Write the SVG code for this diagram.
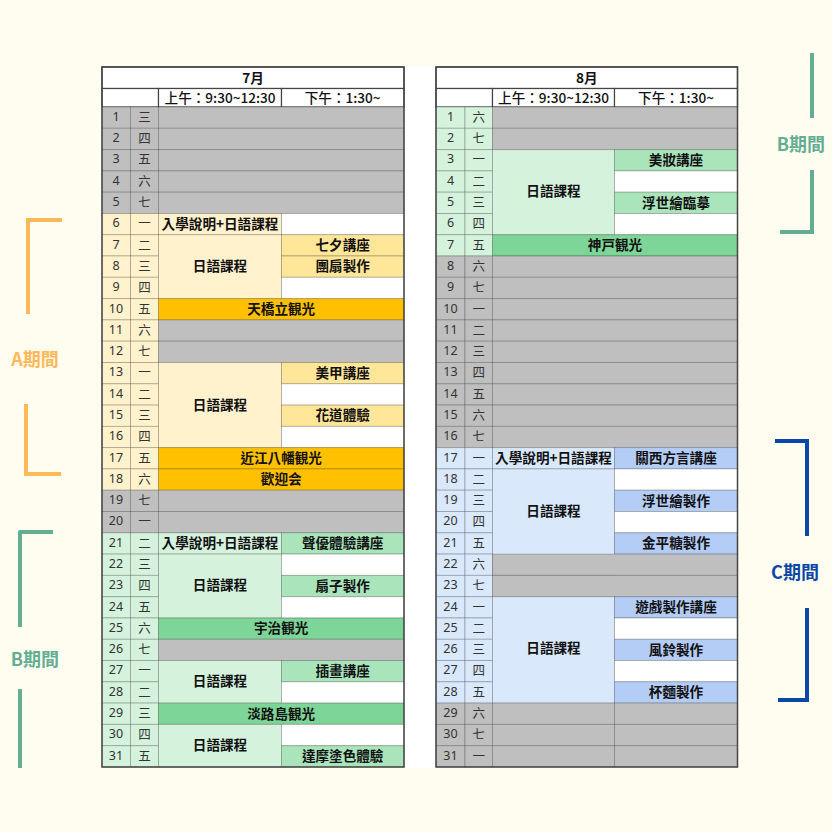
<svg xmlns="http://www.w3.org/2000/svg" width="832" height="832" viewBox="0 0 832 832">
<style>
rect{stroke:rgba(0,0,0,0.22);stroke-width:1}
.bg{stroke:none}
.g{fill:#bfbfbf}.yl{fill:#fff2cc}.ym{fill:#ffe699}.yo{fill:#ffc000}
.gl{fill:#d5f2dd}.gm{fill:#a9e4bb}.gd{fill:#7dd597}
.bl{fill:#dae8fc}.bm{fill:#b4cdf7}.w{fill:#ffffff}
.hd{fill:#ffffff;stroke:#444;stroke-width:1.2}
.frame{fill:none;stroke:#444;stroke-width:1.5}
text{text-anchor:middle;dominant-baseline:central;transform:translateY(-1.2px)}
.t{font-family:"Noto Sans CJK TC","Noto Sans CJK JP",sans-serif;font-size:13.6px;font-weight:bold;fill:#111}
.h{font-family:"Noto Sans CJK TC","Noto Sans CJK JP",sans-serif;font-size:13.6px;font-weight:500;fill:#111}
.n{font-family:"Noto Sans","Liberation Sans",sans-serif;font-size:12.5px;fill:#333}
.d{font-family:"Noto Sans CJK TC","Noto Sans CJK JP",sans-serif;font-size:12.5px;fill:#333}
.br{fill:none;stroke-width:4}
.lab{font-family:"Noto Sans CJK TC","Noto Sans CJK JP",sans-serif;font-size:18px;font-weight:bold;dominant-baseline:auto;transform:none}
</style>
<rect class="bg" x="0" y="0" width="832" height="832" fill="#fffdf0"/>
<rect class="bg" x="404" y="67" width="32" height="701" fill="#ffffff"/>

<g id="july">
<rect class="hd" x="102" y="67" width="302" height="21.5"/>
<text class="t" x="253" y="78">7月</text>
<rect class="hd" x="102" y="88.5" width="56.5" height="18.5"/>
<rect class="hd" x="158.5" y="88.5" width="123" height="18.5"/>
<rect class="hd" x="281.5" y="88.5" width="122.5" height="18.5"/>
<text class="h" x="220" y="98">上午：9:30~12:30</text>
<text class="h" x="342.7" y="98">下午：1:30~</text>

<rect class="g" x="102" y="107" width="28.5" height="21.3"/><rect class="g" x="130.5" y="107" width="28" height="21.3"/>
<rect class="g" x="102" y="128.3" width="28.5" height="21.3"/><rect class="g" x="130.5" y="128.3" width="28" height="21.3"/>
<rect class="g" x="102" y="149.6" width="28.5" height="21.3"/><rect class="g" x="130.5" y="149.6" width="28" height="21.3"/>
<rect class="g" x="102" y="170.9" width="28.5" height="21.3"/><rect class="g" x="130.5" y="170.9" width="28" height="21.3"/>
<rect class="g" x="102" y="192.2" width="28.5" height="21.3"/><rect class="g" x="130.5" y="192.2" width="28" height="21.3"/>
<rect class="yl" x="102" y="213.5" width="28.5" height="21.2"/><rect class="yl" x="130.5" y="213.5" width="28" height="21.2"/>
<rect class="yl" x="102" y="234.7" width="28.5" height="21.3"/><rect class="yl" x="130.5" y="234.7" width="28" height="21.3"/>
<rect class="yl" x="102" y="256" width="28.5" height="21.3"/><rect class="yl" x="130.5" y="256" width="28" height="21.3"/>
<rect class="yl" x="102" y="277.3" width="28.5" height="21.3"/><rect class="yl" x="130.5" y="277.3" width="28" height="21.3"/>
<rect class="yl" x="102" y="298.6" width="28.5" height="21.3"/><rect class="yl" x="130.5" y="298.6" width="28" height="21.3"/>
<rect class="yl" x="102" y="319.9" width="28.5" height="21.3"/><rect class="yl" x="130.5" y="319.9" width="28" height="21.3"/>
<rect class="yl" x="102" y="341.2" width="28.5" height="21.3"/><rect class="yl" x="130.5" y="341.2" width="28" height="21.3"/>
<rect class="yl" x="102" y="362.5" width="28.5" height="21.3"/><rect class="yl" x="130.5" y="362.5" width="28" height="21.3"/>
<rect class="yl" x="102" y="383.8" width="28.5" height="21.3"/><rect class="yl" x="130.5" y="383.8" width="28" height="21.3"/>
<rect class="yl" x="102" y="405.1" width="28.5" height="21.3"/><rect class="yl" x="130.5" y="405.1" width="28" height="21.3"/>
<rect class="yl" x="102" y="426.4" width="28.5" height="21.2"/><rect class="yl" x="130.5" y="426.4" width="28" height="21.2"/>
<rect class="yl" x="102" y="447.6" width="28.5" height="21.3"/><rect class="yl" x="130.5" y="447.6" width="28" height="21.3"/>
<rect class="yl" x="102" y="468.9" width="28.5" height="21.3"/><rect class="yl" x="130.5" y="468.9" width="28" height="21.3"/>
<rect class="g" x="102" y="490.2" width="28.5" height="21.3"/><rect class="g" x="130.5" y="490.2" width="28" height="21.3"/>
<rect class="g" x="102" y="511.5" width="28.5" height="21.3"/><rect class="g" x="130.5" y="511.5" width="28" height="21.3"/>
<rect class="gl" x="102" y="532.8" width="28.5" height="21.3"/><rect class="gl" x="130.5" y="532.8" width="28" height="21.3"/>
<rect class="gl" x="102" y="554.1" width="28.5" height="21.3"/><rect class="gl" x="130.5" y="554.1" width="28" height="21.3"/>
<rect class="gl" x="102" y="575.4" width="28.5" height="21.3"/><rect class="gl" x="130.5" y="575.4" width="28" height="21.3"/>
<rect class="gl" x="102" y="596.7" width="28.5" height="21.3"/><rect class="gl" x="130.5" y="596.7" width="28" height="21.3"/>
<rect class="gl" x="102" y="618" width="28.5" height="21.3"/><rect class="gl" x="130.5" y="618" width="28" height="21.3"/>
<rect class="gl" x="102" y="639.3" width="28.5" height="21.2"/><rect class="gl" x="130.5" y="639.3" width="28" height="21.2"/>
<rect class="gl" x="102" y="660.5" width="28.5" height="21.3"/><rect class="gl" x="130.5" y="660.5" width="28" height="21.3"/>
<rect class="gl" x="102" y="681.8" width="28.5" height="21.3"/><rect class="gl" x="130.5" y="681.8" width="28" height="21.3"/>
<rect class="gl" x="102" y="703.1" width="28.5" height="21.3"/><rect class="gl" x="130.5" y="703.1" width="28" height="21.3"/>
<rect class="gl" x="102" y="724.4" width="28.5" height="21.3"/><rect class="gl" x="130.5" y="724.4" width="28" height="21.3"/>
<rect class="gl" x="102" y="745.7" width="28.5" height="21.3"/><rect class="gl" x="130.5" y="745.7" width="28" height="21.3"/>

<rect class="g" x="158.5" y="107" width="245.5" height="21.3"/>
<rect class="g" x="158.5" y="128.3" width="245.5" height="21.3"/>
<rect class="g" x="158.5" y="149.6" width="245.5" height="21.3"/>
<rect class="g" x="158.5" y="170.9" width="245.5" height="21.3"/>
<rect class="g" x="158.5" y="192.2" width="245.5" height="21.3"/>
<rect class="yl" x="158.5" y="213.5" width="123" height="21.2"/>
<rect class="w" x="281.5" y="213.5" width="122.5" height="21.2"/>
<rect class="yl" x="158.5" y="234.7" width="123" height="63.9"/>
<rect class="ym" x="281.5" y="234.7" width="122.5" height="21.3"/>
<rect class="ym" x="281.5" y="256" width="122.5" height="21.3"/>
<rect class="w" x="281.5" y="277.3" width="122.5" height="21.3"/>
<rect class="yo" x="158.5" y="298.6" width="245.5" height="21.3"/>
<rect class="g" x="158.5" y="319.9" width="245.5" height="21.3"/>
<rect class="g" x="158.5" y="341.2" width="245.5" height="21.3"/>
<rect class="yl" x="158.5" y="362.5" width="123" height="85.1"/>
<rect class="ym" x="281.5" y="362.5" width="122.5" height="21.3"/>
<rect class="w" x="281.5" y="383.8" width="122.5" height="21.3"/>
<rect class="ym" x="281.5" y="405.1" width="122.5" height="21.3"/>
<rect class="w" x="281.5" y="426.4" width="122.5" height="21.2"/>
<rect class="yo" x="158.5" y="447.6" width="245.5" height="21.3"/>
<rect class="yo" x="158.5" y="468.9" width="245.5" height="21.3"/>
<rect class="g" x="158.5" y="490.2" width="245.5" height="21.3"/>
<rect class="g" x="158.5" y="511.5" width="245.5" height="21.3"/>
<rect class="gl" x="158.5" y="532.8" width="123" height="21.3"/>
<rect class="gm" x="281.5" y="532.8" width="122.5" height="21.3"/>
<rect class="gl" x="158.5" y="554.1" width="123" height="63.9"/>
<rect class="w" x="281.5" y="554.1" width="122.5" height="21.3"/>
<rect class="gm" x="281.5" y="575.4" width="122.5" height="21.3"/>
<rect class="w" x="281.5" y="596.7" width="122.5" height="21.3"/>
<rect class="gd" x="158.5" y="618" width="245.5" height="21.3"/>
<rect class="g" x="158.5" y="639.3" width="245.5" height="21.2"/>
<rect class="gl" x="158.5" y="660.5" width="123" height="42.6"/>
<rect class="gm" x="281.5" y="660.5" width="122.5" height="21.3"/>
<rect class="w" x="281.5" y="681.8" width="122.5" height="21.3"/>
<rect class="gd" x="158.5" y="703.1" width="245.5" height="21.3"/>
<rect class="gl" x="158.5" y="724.4" width="123" height="42.6"/>
<rect class="w" x="281.5" y="724.4" width="122.5" height="21.3"/>
<rect class="gm" x="281.5" y="745.7" width="122.5" height="21.3"/>
<rect class="frame" x="102" y="67" width="302" height="700"/>

<text class="n" x="116" y="117.6">1</text><text class="d" x="144.5" y="117.6">三</text>
<text class="n" x="116" y="138.9">2</text><text class="d" x="144.5" y="138.9">四</text>
<text class="n" x="116" y="160.2">3</text><text class="d" x="144.5" y="160.2">五</text>
<text class="n" x="116" y="181.5">4</text><text class="d" x="144.5" y="181.5">六</text>
<text class="n" x="116" y="202.8">5</text><text class="d" x="144.5" y="202.8">七</text>
<text class="n" x="116" y="224.1">6</text><text class="d" x="144.5" y="224.1">一</text>
<text class="n" x="116" y="245.4">7</text><text class="d" x="144.5" y="245.4">二</text>
<text class="n" x="116" y="266.7">8</text><text class="d" x="144.5" y="266.7">三</text>
<text class="n" x="116" y="288">9</text><text class="d" x="144.5" y="288">四</text>
<text class="n" x="116" y="309.3">10</text><text class="d" x="144.5" y="309.3">五</text>
<text class="n" x="116" y="330.6">11</text><text class="d" x="144.5" y="330.6">六</text>
<text class="n" x="116" y="351.9">12</text><text class="d" x="144.5" y="351.9">七</text>
<text class="n" x="116" y="373.2">13</text><text class="d" x="144.5" y="373.2">一</text>
<text class="n" x="116" y="394.4">14</text><text class="d" x="144.5" y="394.4">二</text>
<text class="n" x="116" y="415.7">15</text><text class="d" x="144.5" y="415.7">三</text>
<text class="n" x="116" y="437">16</text><text class="d" x="144.5" y="437">四</text>
<text class="n" x="116" y="458.3">17</text><text class="d" x="144.5" y="458.3">五</text>
<text class="n" x="116" y="479.6">18</text><text class="d" x="144.5" y="479.6">六</text>
<text class="n" x="116" y="500.9">19</text><text class="d" x="144.5" y="500.9">七</text>
<text class="n" x="116" y="522.2">20</text><text class="d" x="144.5" y="522.2">一</text>
<text class="n" x="116" y="543.5">21</text><text class="d" x="144.5" y="543.5">二</text>
<text class="n" x="116" y="564.8">22</text><text class="d" x="144.5" y="564.8">三</text>
<text class="n" x="116" y="586.1">23</text><text class="d" x="144.5" y="586.1">四</text>
<text class="n" x="116" y="607.4">24</text><text class="d" x="144.5" y="607.4">五</text>
<text class="n" x="116" y="628.6">25</text><text class="d" x="144.5" y="628.6">六</text>
<text class="n" x="116" y="649.9">26</text><text class="d" x="144.5" y="649.9">七</text>
<text class="n" x="116" y="671.2">27</text><text class="d" x="144.5" y="671.2">一</text>
<text class="n" x="116" y="692.5">28</text><text class="d" x="144.5" y="692.5">二</text>
<text class="n" x="116" y="713.8">29</text><text class="d" x="144.5" y="713.8">三</text>
<text class="n" x="116" y="735.1">30</text><text class="d" x="144.5" y="735.1">四</text>
<text class="n" x="116" y="756.4">31</text><text class="d" x="144.5" y="756.4">五</text>

<text class="t" x="220" y="224.1">入學說明+日語課程</text>
<text class="t" x="220" y="266.6">日語課程</text>
<text class="t" x="342.7" y="245.4">七夕講座</text>
<text class="t" x="342.7" y="266.7">團扇製作</text>
<text class="t" x="281.2" y="309.3">天橋立観光</text>
<text class="t" x="220" y="405">日語課程</text>
<text class="t" x="342.7" y="373.2">美甲講座</text>
<text class="t" x="342.7" y="415.7">花道體驗</text>
<text class="t" x="281.2" y="458.3">近江八幡観光</text>
<text class="t" x="281.2" y="479.6">歡迎会</text>
<text class="t" x="220" y="543.5">入學說明+日語課程</text>
<text class="t" x="342.7" y="543.5">聲優體驗講座</text>
<text class="t" x="220" y="585.5">日語課程</text>
<text class="t" x="342.7" y="586.1">扇子製作</text>
<text class="t" x="281.2" y="628.6">宇治観光</text>
<text class="t" x="220" y="681.3">日語課程</text>
<text class="t" x="342.7" y="671.2">插畫講座</text>
<text class="t" x="281.2" y="713.8">淡路島観光</text>
<text class="t" x="220" y="745.3">日語課程</text>
<text class="t" x="342.7" y="756.4">達摩塗色體驗</text>
</g>

<g id="august">
<rect class="hd" x="436" y="67" width="301.5" height="21.5"/>
<text class="t" x="586.7" y="78">8月</text>
<rect class="hd" x="436" y="88.5" width="56.5" height="18.5"/>
<rect class="hd" x="492.5" y="88.5" width="122" height="18.5"/>
<rect class="hd" x="614.5" y="88.5" width="123" height="18.5"/>
<text class="h" x="553.5" y="98">上午：9:30~12:30</text>
<text class="h" x="676" y="98">下午：1:30~</text>

<rect class="gl" x="436" y="107" width="29" height="21.3"/><rect class="gl" x="465" y="107" width="27.5" height="21.3"/>
<rect class="gl" x="436" y="128.3" width="29" height="21.3"/><rect class="gl" x="465" y="128.3" width="27.5" height="21.3"/>
<rect class="gl" x="436" y="149.6" width="29" height="21.3"/><rect class="gl" x="465" y="149.6" width="27.5" height="21.3"/>
<rect class="gl" x="436" y="170.9" width="29" height="21.3"/><rect class="gl" x="465" y="170.9" width="27.5" height="21.3"/>
<rect class="gl" x="436" y="192.2" width="29" height="21.3"/><rect class="gl" x="465" y="192.2" width="27.5" height="21.3"/>
<rect class="gl" x="436" y="213.5" width="29" height="21.2"/><rect class="gl" x="465" y="213.5" width="27.5" height="21.2"/>
<rect class="gl" x="436" y="234.7" width="29" height="21.3"/><rect class="gl" x="465" y="234.7" width="27.5" height="21.3"/>
<rect class="g" x="436" y="256" width="29" height="21.3"/><rect class="g" x="465" y="256" width="27.5" height="21.3"/>
<rect class="g" x="436" y="277.3" width="29" height="21.3"/><rect class="g" x="465" y="277.3" width="27.5" height="21.3"/>
<rect class="g" x="436" y="298.6" width="29" height="21.3"/><rect class="g" x="465" y="298.6" width="27.5" height="21.3"/>
<rect class="g" x="436" y="319.9" width="29" height="21.3"/><rect class="g" x="465" y="319.9" width="27.5" height="21.3"/>
<rect class="g" x="436" y="341.2" width="29" height="21.3"/><rect class="g" x="465" y="341.2" width="27.5" height="21.3"/>
<rect class="g" x="436" y="362.5" width="29" height="21.3"/><rect class="g" x="465" y="362.5" width="27.5" height="21.3"/>
<rect class="g" x="436" y="383.8" width="29" height="21.3"/><rect class="g" x="465" y="383.8" width="27.5" height="21.3"/>
<rect class="g" x="436" y="405.1" width="29" height="21.3"/><rect class="g" x="465" y="405.1" width="27.5" height="21.3"/>
<rect class="g" x="436" y="426.4" width="29" height="21.2"/><rect class="g" x="465" y="426.4" width="27.5" height="21.2"/>
<rect class="bl" x="436" y="447.6" width="29" height="21.3"/><rect class="bl" x="465" y="447.6" width="27.5" height="21.3"/>
<rect class="bl" x="436" y="468.9" width="29" height="21.3"/><rect class="bl" x="465" y="468.9" width="27.5" height="21.3"/>
<rect class="bl" x="436" y="490.2" width="29" height="21.3"/><rect class="bl" x="465" y="490.2" width="27.5" height="21.3"/>
<rect class="bl" x="436" y="511.5" width="29" height="21.3"/><rect class="bl" x="465" y="511.5" width="27.5" height="21.3"/>
<rect class="bl" x="436" y="532.8" width="29" height="21.3"/><rect class="bl" x="465" y="532.8" width="27.5" height="21.3"/>
<rect class="bl" x="436" y="554.1" width="29" height="21.3"/><rect class="bl" x="465" y="554.1" width="27.5" height="21.3"/>
<rect class="bl" x="436" y="575.4" width="29" height="21.3"/><rect class="bl" x="465" y="575.4" width="27.5" height="21.3"/>
<rect class="bl" x="436" y="596.7" width="29" height="21.3"/><rect class="bl" x="465" y="596.7" width="27.5" height="21.3"/>
<rect class="bl" x="436" y="618" width="29" height="21.3"/><rect class="bl" x="465" y="618" width="27.5" height="21.3"/>
<rect class="bl" x="436" y="639.3" width="29" height="21.2"/><rect class="bl" x="465" y="639.3" width="27.5" height="21.2"/>
<rect class="bl" x="436" y="660.5" width="29" height="21.3"/><rect class="bl" x="465" y="660.5" width="27.5" height="21.3"/>
<rect class="bl" x="436" y="681.8" width="29" height="21.3"/><rect class="bl" x="465" y="681.8" width="27.5" height="21.3"/>
<rect class="g" x="436" y="703.1" width="29" height="21.3"/><rect class="g" x="465" y="703.1" width="27.5" height="21.3"/>
<rect class="g" x="436" y="724.4" width="29" height="21.3"/><rect class="g" x="465" y="724.4" width="27.5" height="21.3"/>
<rect class="g" x="436" y="745.7" width="29" height="21.3"/><rect class="g" x="465" y="745.7" width="27.5" height="21.3"/>

<rect class="g" x="492.5" y="107" width="245" height="21.3"/>
<rect class="g" x="492.5" y="128.3" width="245" height="21.3"/>
<rect class="gl" x="492.5" y="149.6" width="122" height="85.1"/>
<rect class="gm" x="614.5" y="149.6" width="123" height="21.3"/>
<rect class="w" x="614.5" y="170.9" width="123" height="21.3"/>
<rect class="gm" x="614.5" y="192.2" width="123" height="21.3"/>
<rect class="w" x="614.5" y="213.5" width="123" height="21.2"/>
<rect class="gd" x="492.5" y="234.7" width="245" height="21.3"/>
<rect class="g" x="492.5" y="256" width="245" height="21.3"/>
<rect class="g" x="492.5" y="277.3" width="245" height="21.3"/>
<rect class="g" x="492.5" y="298.6" width="245" height="21.3"/>
<rect class="g" x="492.5" y="319.9" width="245" height="21.3"/>
<rect class="g" x="492.5" y="341.2" width="245" height="21.3"/>
<rect class="g" x="492.5" y="362.5" width="245" height="21.3"/>
<rect class="g" x="492.5" y="383.8" width="245" height="21.3"/>
<rect class="g" x="492.5" y="405.1" width="245" height="21.3"/>
<rect class="g" x="492.5" y="426.4" width="245" height="21.2"/>
<rect class="bl" x="492.5" y="447.6" width="122" height="21.3"/>
<rect class="bm" x="614.5" y="447.6" width="123" height="21.3"/>
<rect class="bl" x="492.5" y="468.9" width="122" height="106.5"/>
<rect class="w" x="614.5" y="468.9" width="123" height="21.3"/>
<rect class="bm" x="614.5" y="490.2" width="123" height="21.3"/>
<rect class="w" x="614.5" y="511.5" width="123" height="21.3"/>
<rect class="bm" x="614.5" y="532.8" width="123" height="21.3"/>
<rect class="g" x="492.5" y="554.1" width="245" height="21.3"/>
<rect class="g" x="492.5" y="575.4" width="245" height="21.3"/>
<rect class="bl" x="492.5" y="596.7" width="122" height="106.4"/>
<rect class="bm" x="614.5" y="596.7" width="123" height="21.3"/>
<rect class="w" x="614.5" y="618" width="123" height="21.3"/>
<rect class="bm" x="614.5" y="639.3" width="123" height="21.2"/>
<rect class="w" x="614.5" y="660.5" width="123" height="21.3"/>
<rect class="bm" x="614.5" y="681.8" width="123" height="21.3"/>
<rect class="g" x="492.5" y="703.1" width="122" height="21.3"/><rect class="g" x="614.5" y="703.1" width="123" height="21.3"/>
<rect class="g" x="492.5" y="724.4" width="122" height="21.3"/><rect class="g" x="614.5" y="724.4" width="123" height="21.3"/>
<rect class="g" x="492.5" y="745.7" width="122" height="21.3"/><rect class="g" x="614.5" y="745.7" width="123" height="21.3"/>
<rect class="frame" x="436" y="67" width="301.5" height="700"/>

<text class="n" x="450.5" y="117.6">1</text><text class="d" x="478.7" y="117.6">六</text>
<text class="n" x="450.5" y="138.9">2</text><text class="d" x="478.7" y="138.9">七</text>
<text class="n" x="450.5" y="160.2">3</text><text class="d" x="478.7" y="160.2">一</text>
<text class="n" x="450.5" y="181.5">4</text><text class="d" x="478.7" y="181.5">二</text>
<text class="n" x="450.5" y="202.8">5</text><text class="d" x="478.7" y="202.8">三</text>
<text class="n" x="450.5" y="224.1">6</text><text class="d" x="478.7" y="224.1">四</text>
<text class="n" x="450.5" y="245.4">7</text><text class="d" x="478.7" y="245.4">五</text>
<text class="n" x="450.5" y="266.7">8</text><text class="d" x="478.7" y="266.7">六</text>
<text class="n" x="450.5" y="288">9</text><text class="d" x="478.7" y="288">七</text>
<text class="n" x="450.5" y="309.3">10</text><text class="d" x="478.7" y="309.3">一</text>
<text class="n" x="450.5" y="330.6">11</text><text class="d" x="478.7" y="330.6">二</text>
<text class="n" x="450.5" y="351.9">12</text><text class="d" x="478.7" y="351.9">三</text>
<text class="n" x="450.5" y="373.2">13</text><text class="d" x="478.7" y="373.2">四</text>
<text class="n" x="450.5" y="394.4">14</text><text class="d" x="478.7" y="394.4">五</text>
<text class="n" x="450.5" y="415.7">15</text><text class="d" x="478.7" y="415.7">六</text>
<text class="n" x="450.5" y="437">16</text><text class="d" x="478.7" y="437">七</text>
<text class="n" x="450.5" y="458.3">17</text><text class="d" x="478.7" y="458.3">一</text>
<text class="n" x="450.5" y="479.6">18</text><text class="d" x="478.7" y="479.6">二</text>
<text class="n" x="450.5" y="500.9">19</text><text class="d" x="478.7" y="500.9">三</text>
<text class="n" x="450.5" y="522.2">20</text><text class="d" x="478.7" y="522.2">四</text>
<text class="n" x="450.5" y="543.5">21</text><text class="d" x="478.7" y="543.5">五</text>
<text class="n" x="450.5" y="564.8">22</text><text class="d" x="478.7" y="564.8">六</text>
<text class="n" x="450.5" y="586.1">23</text><text class="d" x="478.7" y="586.1">七</text>
<text class="n" x="450.5" y="607.4">24</text><text class="d" x="478.7" y="607.4">一</text>
<text class="n" x="450.5" y="628.6">25</text><text class="d" x="478.7" y="628.6">二</text>
<text class="n" x="450.5" y="649.9">26</text><text class="d" x="478.7" y="649.9">三</text>
<text class="n" x="450.5" y="671.2">27</text><text class="d" x="478.7" y="671.2">四</text>
<text class="n" x="450.5" y="692.5">28</text><text class="d" x="478.7" y="692.5">五</text>
<text class="n" x="450.5" y="713.8">29</text><text class="d" x="478.7" y="713.8">六</text>
<text class="n" x="450.5" y="735.1">30</text><text class="d" x="478.7" y="735.1">七</text>
<text class="n" x="450.5" y="756.4">31</text><text class="d" x="478.7" y="756.4">一</text>

<text class="t" x="553.5" y="191">日語課程</text>
<text class="t" x="676" y="160.2">美妝講座</text>
<text class="t" x="676" y="202.8">浮世繪臨摹</text>
<text class="t" x="615" y="245.4">神戸観光</text>
<text class="t" x="553.5" y="458.3">入學說明+日語課程</text>
<text class="t" x="676" y="458.3">關西方言講座</text>
<text class="t" x="553.5" y="511">日語課程</text>
<text class="t" x="676" y="500.9">浮世繪製作</text>
<text class="t" x="676" y="543.5">金平糖製作</text>
<text class="t" x="553.5" y="648.5">日語課程</text>
<text class="t" x="676" y="607.4">遊戲製作講座</text>
<text class="t" x="676" y="649.9">風鈴製作</text>
<text class="t" x="676" y="692.5">杯麵製作</text>
</g>

<g id="period-a">
<path class="br" stroke="#fdb858" d="M62,220 H28 V314"/>
<path class="br" stroke="#fdb858" d="M26,404 V474 H61"/>
<text class="lab" x="35" y="366" fill="#fdb858">A期間</text>
</g>
<g id="period-b-left">
<path class="br" stroke="#63ae93" d="M53,532 H20 V627" stroke-linejoin="round"/>
<path class="br" stroke="#63ae93" d="M20,689 V768"/>
<text class="lab" x="35" y="666" fill="#63ae93">B期間</text>
</g>
<g id="period-b-right">
<path class="br" stroke="#63ae93" d="M812,53 V118"/>
<path class="br" stroke="#63ae93" d="M812,170 V232 H780"/>
<text class="lab" x="801" y="151" fill="#63ae93">B期間</text>
</g>
<g id="period-c">
<path class="br" stroke="#0b47a6" stroke-width="5" d="M775,441 H807 V536"/>
<path class="br" stroke="#0b47a6" stroke-width="5" d="M807,608 V700 H778"/>
<text class="lab" x="795" y="579" fill="#0b47a6">C期間</text>
</g>
</svg>
